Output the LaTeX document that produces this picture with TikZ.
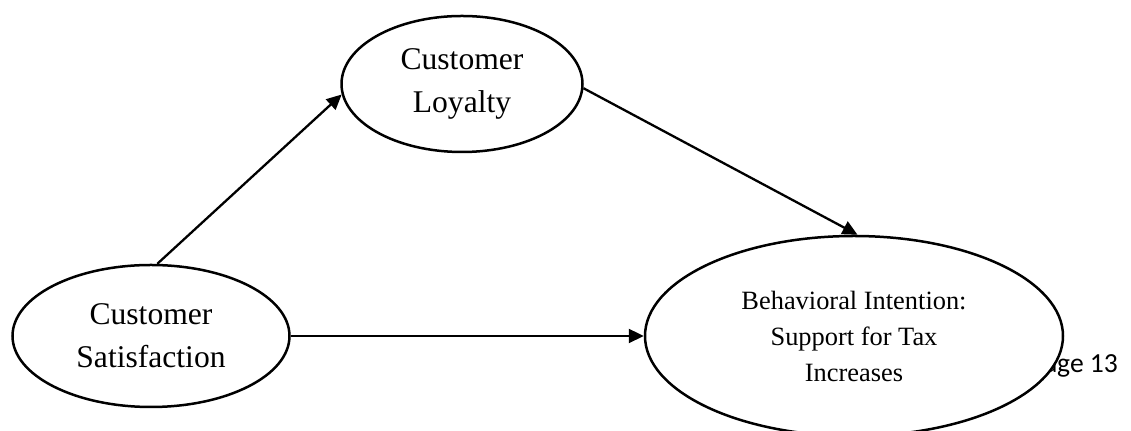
\documentclass[tikz,border=0pt]{standalone}
\usepackage{fontspec}
\setmainfont{Liberation Serif}
\newfontfamily\pagefont{Carlito}
\usetikzlibrary{shapes.geometric}
\usetikzlibrary{arrows.meta}
\tikzset{x=0.5pt, y=-0.5pt,
construct/.style={ % Sets the properties for each ellipse
ellipse,
draw,
line width=1.25pt,
fill=white,
inner sep=0pt,
align=center},
every edge/.style={ % Sets the properties for each path
draw,
-{Triangle[length=7.5pt,width=7pt]},
line width=1.15pt}}

\begin{document}
\begin{tikzpicture}
\useasboundingbox (0,0) rectangle (1131,431);
\node[font=\pagefont\fontsize{13.8}{16}\selectfont, anchor=base east] (pg) at (1125,373) {age 13};
\node[construct, minimum width=138.5pt, minimum height=71pt,
  font=\fontsize{15.8}{21.5}\selectfont] (sat) at (151,336) {Customer\\Satisfaction};
\node[construct, minimum width=120.5pt, minimum height=68pt,
  font=\fontsize{15.8}{21.5}\selectfont] (loy) at (462,84) {Customer\\Loyalty};
\node[construct, minimum width=209pt, minimum height=100pt,
  font=\fontsize{13.2}{18}\selectfont] (beh) at (854,336) {Behavioral Intention:\\Support for Tax\\Increases};
\draw (sat.85) edge (loy.185);
\draw (loy.-2) edge (beh.88);
\draw (sat.east) edge (beh.west);
\end{tikzpicture}
\end{document}
